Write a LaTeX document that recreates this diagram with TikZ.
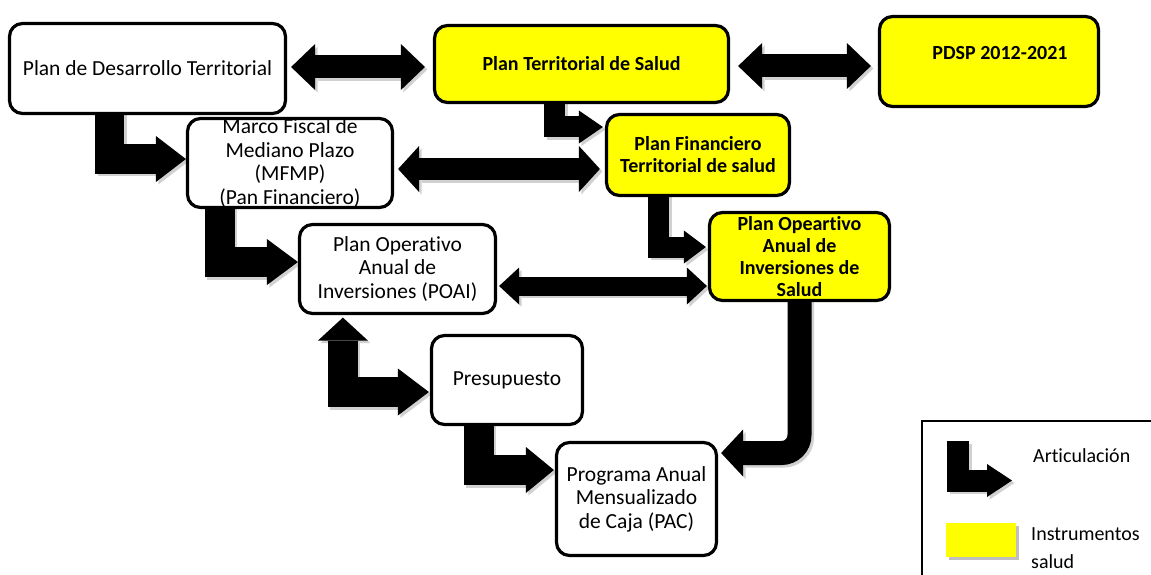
\documentclass[tikz,border=0pt]{standalone}
\usepackage{fontspec}
\setmainfont{Carlito}[Ligatures=CommonOff]
\usetikzlibrary{arrows.meta,calc}
\colorlet{lk}{black}
\definecolor{hl}{RGB}{255,255,0}
\tikzset{
  box/.style={draw=black, line width=3.2pt, rounded corners=13pt, fill=white,
    align=center, inner sep=0pt, font=\fontsize{21.5}{23.5}\selectfont},
  hbox/.style={box, fill=hl, font=\bfseries\fontsize{20}{22}\selectfont},
  % straight two-headed link: bar width, head width, head length
  dbl/.style n args={3}{draw=lk, line width=#1pt, line cap=butt,
    {Triangle[width=#2pt,length=#3pt,line width=0pt]}-{Triangle[width=#2pt,length=#3pt,line width=0pt]}},
  % elbow link: bar width, head width, head length
  elbow/.style n args={3}{draw=lk, line width=#1pt, line cap=butt, line join=miter,
    -{Triangle[width=#2pt,length=#3pt,line width=0pt]}},
}
% all articulation links between the boxes
\newcommand\links{%
  \draw[dbl={23}{46}{24}] ($(pdt.east)+(4,-1.5)$) -- ($(pdt.east -| pts.west)+(-8,-1.5)$);
  \draw[dbl={23}{46}{24}] ($(pts.east)+(8,2)$) -- ($(pts.east -| pdsp.west)+(-7,2)$);
  \draw[dbl={22}{46}{21}] ($(mfmp.east)+(4,6)$) -- ($(mfmp.east -| pfts.west)+(-5,6)$);
  \draw[dbl={19}{37}{20}] ($(poai.east)+(2,17)$) -- ($(poai.east -| poais.west)+(-1,17)$);
  \draw[elbow={29}{46}{30}] ($(pdt.south west)+(102,-3)$) |- ($(mfmp.west)+(0,-4)$);
  \draw[elbow={30}{46}{31}] ($(mfmp.south west)+(34,-3)$) |- ($(poai.west)+(0,-7)$);
  \draw[elbow={21}{33}{24}] ($(pts.south west)+(122,-3)$) |- ($(pfts.west)+(-2,-28)$);
  \draw[elbow={21}{33}{22}] ($(pfts.south west)+(54,-3)$) |- ($(poais.west)+(-2,-9.5)$);
  \draw[draw=lk, line width=30pt, line cap=butt, line join=miter,
    {Triangle[width=50pt,length=23pt,line width=0pt]}-{Triangle[width=47pt,length=31pt,line width=0pt]}]
    ($(poai.south west)+(45,2.5)$) |- ($(pres.west)+(-1,12)$);
  \draw[elbow={30}{46}{28}] ($(pres.south west)+(49,-3)$) |- ($(pac.west)+(-1,-29)$);
  \draw[elbow={24}{47}{22}, rounded corners=18pt] ($(poais.south)+(0,-3)$) |- ($(pac.east)+(3,-46)$);
  \draw[elbow={22}{33}{25}] (lgA) |- (lgB);
}
\begin{document}
\begin{tikzpicture}[x=1pt,y=-1pt]
\useasboundingbox[fill=white] (0,0) rectangle (1151,575);

% box outlines used as link anchors (invisible; the drawn boxes follow the links)
\begin{scope}[every node/.append style={opacity=0}]
\node[box, minimum width=276pt, minimum height=90pt] (pdt) at (147.5,68.5) {};
\node[hbox, minimum width=294pt, minimum height=77pt] (pts) at (581.5,64) {};
\node[hbox, minimum width=219pt, minimum height=90pt] (pdsp) at (989,61.5) {};
\node[box, minimum width=205pt, minimum height=89pt] (mfmp) at (290,163) {};
\node[hbox, minimum width=183pt, minimum height=81pt] (pfts) at (698,155) {};
\node[hbox, minimum width=180pt, minimum height=88pt] (poais) at (799.5,256.5) {};
\node[box, minimum width=196pt, minimum height=89pt] (poai) at (397.5,269) {};
\node[box, minimum width=151pt, minimum height=89pt] (pres) at (507,380) {};
\node[box, minimum width=160pt, minimum height=113pt] (pac) at (636.5,499) {};
\end{scope}
\coordinate (lgA) at (958,441);
\coordinate (lgB) at (1012,480.5);

% soft shadow under the links
\begin{scope}[transform canvas={shift={(2.5pt,-2.5pt)}}]
  \colorlet{lk}{black!18}
  \links
\end{scope}
\links

% visible boxes with their texts
\node[box, minimum width=276pt, minimum height=90pt] (pdtB) at (pdt) {Plan de Desarrollo Territorial};
\node[hbox, minimum width=294pt, minimum height=77pt] (ptsB) at (pts) {Plan Territorial de Salud};
\node[hbox, minimum width=219pt, minimum height=90pt] (pdspB) at (pdsp) {};
\node[font=\bfseries\fontsize{20}{22}\selectfont, inner sep=0pt] (pdspT) at (1000,53) {PDSP 2012-2021};
\node[box, minimum width=205pt, minimum height=89pt] (mfmpB) at (mfmp) {Marco Fiscal de\\Mediano Plazo\\(MFMP)\\(Pan Financiero)};
\node[hbox, minimum width=183pt, minimum height=81pt] (pftsB) at (pfts) {Plan Financiero\\Territorial de salud};
\node[hbox, minimum width=180pt, minimum height=88pt] (poaisB) at (poais) {Plan Opeartivo\\Anual de\\Inversiones de\\Salud};
\node[box, minimum width=196pt, minimum height=89pt] (poaiB) at (poai) {Plan Operativo\\Anual de\\Inversiones (POAI)};
\node[box, minimum width=151pt, minimum height=89pt] (presB) at (pres) {Presupuesto};
\node[box, minimum width=160pt, minimum height=113pt] (pacB) at (pac) {Programa Anual\\Mensualizado\\de Caja (PAC)};

% legend
\draw[line width=1.2pt] (922,421) rectangle (1170,600);
\fill[black!25] (948.5,526) rectangle (1018.5,560);
\node[fill=hl, minimum width=70pt, minimum height=34pt, inner sep=0pt] (lgY) at (981,540) {};
\begin{scope}[every node/.style={anchor=base west, inner sep=0pt, font=\fontsize{20}{24}\selectfont}]
\node (lgT1) at (1033,462) {Articulación};
\node (lgT2) at (1031,540) {Instrumentos};
\node (lgT3) at (1031,568) {salud};
\end{scope}
\end{tikzpicture}
\end{document}
